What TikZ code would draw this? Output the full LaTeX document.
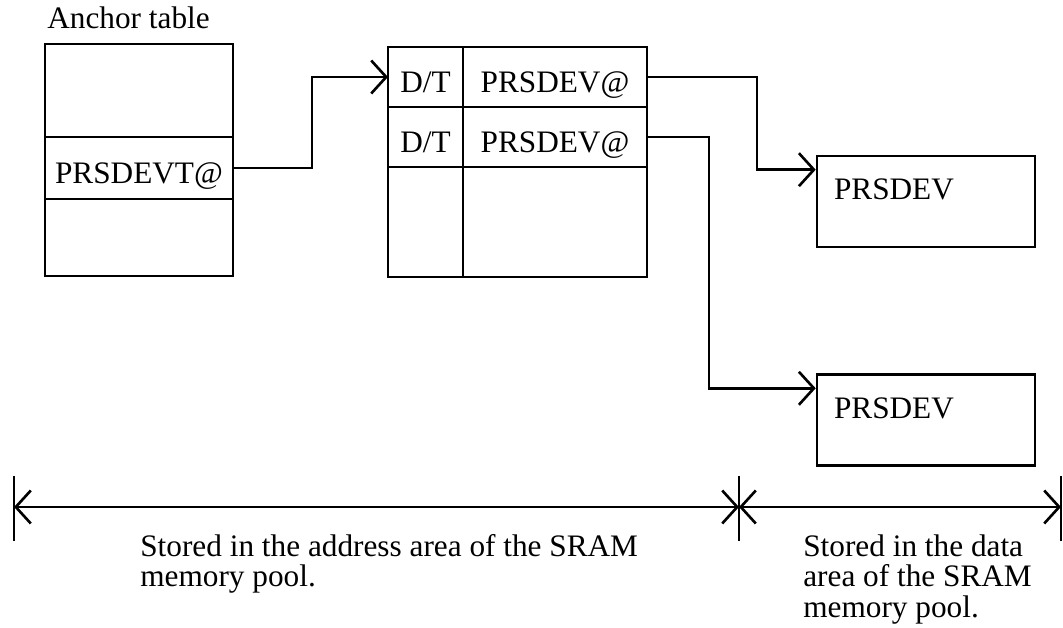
\documentclass[tikz,border=0pt]{standalone}
\usepackage{fontspec}
\setmainfont{Liberation Serif}
\usetikzlibrary{arrows.meta,positioning}

\begin{document}
\begin{tikzpicture}[
  x=0.02cm, y=-0.02cm,
  font=\fontsize{17.8}{17.4}\selectfont,
  cell/.style={draw, line width=1.5pt, inner sep=0pt, outer sep=0pt,
               text height=0.78cm, text depth=0.14cm},
  devbox/.style={draw, line width=1.5pt, minimum width=4.36cm, minimum height=1.82cm,
                 inner xsep=0.34cm, text width=3.68cm, align=left,
                 text height=0.42cm, text depth=0.48cm},
  note/.style={anchor=north west, inner sep=0pt, align=left},
  arrow/.style={-{Straight Barb[length=0.3cm,width=0.66cm]}, line width=1.5pt},
  dim/.style={{Straight Barb[length=0.3cm,width=0.66cm]}-{Straight Barb[length=0.3cm,width=0.66cm]},
              line width=1.5pt}
]
\useasboundingbox (0,0) rectangle (1063,628);

% anchor table
\node[anchor=base west, inner sep=0pt] (title) at (47,29) {Anchor table};
\node[cell, minimum width=3.76cm, minimum height=1.86cm] (anc1) at (139,90.5) {};
\node[cell, minimum width=3.76cm, minimum height=1.24cm, below=0pt of anc1] (anc2) {PRSDEVT@};
\node[cell, minimum width=3.76cm, minimum height=1.54cm, below=0pt of anc2] (anc3) {};

% device table
\node[cell, minimum width=1.5cm, minimum height=1.2cm] (dt1) at (425.5,77) {D/T};
\node[cell, minimum width=3.68cm, minimum height=1.2cm, right=0pt of dt1] (ptr1) {PRSDEV@};
\node[cell, minimum width=1.5cm, minimum height=1.2cm, below=0pt of dt1] (dt2) {D/T};
\node[cell, minimum width=3.68cm, minimum height=1.2cm, right=0pt of dt2] (ptr2) {PRSDEV@};
\node[cell, minimum width=1.5cm, minimum height=2.2cm, below=0pt of dt2] (dt3) {};
\node[cell, minimum width=3.68cm, minimum height=2.2cm, right=0pt of dt3] (ptr3) {};

% devices
\node[devbox] (dev1) at (926,201.5) {PRSDEV};
\node[devbox, below=2.5cm of dev1] (dev2) {PRSDEV};

\draw[arrow] (anc2.east) -- ++(79,0) |- (dt1.west);
\draw[arrow] (ptr1.east) -- ++(110,0) |- ([yshift=-0.3cm]dev1.north west);
\draw[arrow] (ptr2.east) -- ++(62,0) |- ([yshift=-0.3cm]dev2.north west);

% memory areas
\coordinate (dimL) at (14,507);
\coordinate (dimM) at (739,507);
\coordinate (dimR) at (1061,507);
\draw[dim] (dimL) -- (dimM);
\draw[dim] (dimM) -- (dimR);
\foreach \c in {dimL,dimM,dimR}
  \draw[line width=1.5pt] (\c) ++(0,-31) -- ++(0,65);

\node[note] (addrnote) at (140,534) {Stored in the address area of the SRAM\\memory pool.};
\node[note] (datanote) at (803,534) {Stored in the data\\area of the SRAM\\memory pool.};
\end{tikzpicture}
\end{document}
